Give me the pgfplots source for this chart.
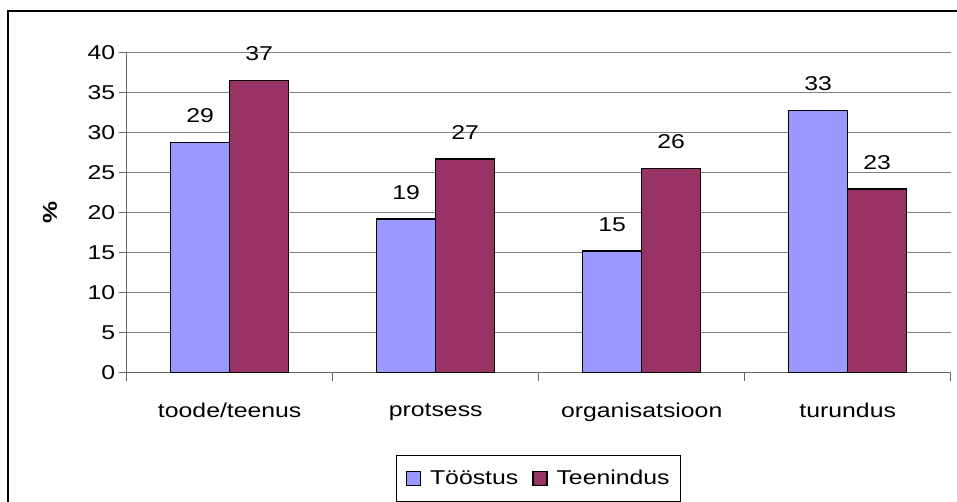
\documentclass[border=0pt]{standalone}
\usepackage{pgfplots}
\pgfplotsset{compat=1.18}
\usepackage{fontspec}
\setmainfont{Liberation Sans}[FakeStretch=1.24]
\definecolor{toostus}{HTML}{9999FF}
\definecolor{teenindus}{HTML}{993366}
\newcommand{\chartfont}{\fontsize{20bp}{24bp}\selectfont}

\begin{document}
\begin{tikzpicture}
\useasboundingbox (0,0) rectangle (957bp,502bp);
% outer chart frame (only left and top edges are visible)
\draw[line width=2.5bp] (8bp,-3bp) -- (8bp,491bp) -- (960bp,491bp);
\begin{axis}[
    at={(126.7bp,129.3bp)}, anchor=south west,
    scale only axis, width=824bp, height=320bp,
    ybar=0pt, bar width=59bp,
    xmin=-0.5, xmax=3.5, ymin=0, ymax=40,
    xtick={0,1,2,3},
    xticklabels={toode/teenus,protsess,organisatsioon,turundus},
    minor xtick={-0.5,0.5,1.5,2.5,3.5},
    ytick={0,5,...,40},
    axis lines=left, axis line style={-, black!60, line width=0.8bp},
    ymajorgrids, grid style={black!50, line width=1bp},
    tick align=outside, major tick length=8bp, minor tick length=8bp,
    tick style={black!60, line width=0.8bp},
    major x tick style={draw=none},
    /pgf/number format/assume math mode=true,
    tick label style={font=\chartfont},
    xticklabel style={yshift=-19bp},
    ylabel={\textbf{\%}},
    ylabel style={font=\chartfont, at={(axis description cs:-0.093,0.5)}, anchor=center},
    nodes near coords={\pgfmathprintnumber[fixed,precision=0]{\pgfplotspointmeta}},
    nodes near coords style={font=\chartfont, anchor=south, inner sep=0pt, yshift=19bp, black},
    every axis plot/.append style={draw=black, line width=1.3bp},
    legend image code/.code={\draw[#1, draw=black, line width=1.3bp] (0bp,-7bp) rectangle (14bp,7bp);},
    legend style={at={(0.5,-0.257)}, anchor=north, draw=black, line width=0.8bp,
        font=\chartfont, legend columns=2, inner xsep=9bp, inner ysep=13bp,
        /tikz/every odd column/.append style={column sep=7bp},
        /tikz/every even column/.append style={column sep=12bp}},
]
\addplot[fill=toostus] coordinates {(0,28.75) (1,19.2) (2,15.2) (3,32.75)};
\addplot[fill=teenindus] coordinates {(0,36.55) (1,26.7) (2,25.55) (3,22.95)};
\legend{Tööstus,Teenindus}
\end{axis}
\end{tikzpicture}
\end{document}
